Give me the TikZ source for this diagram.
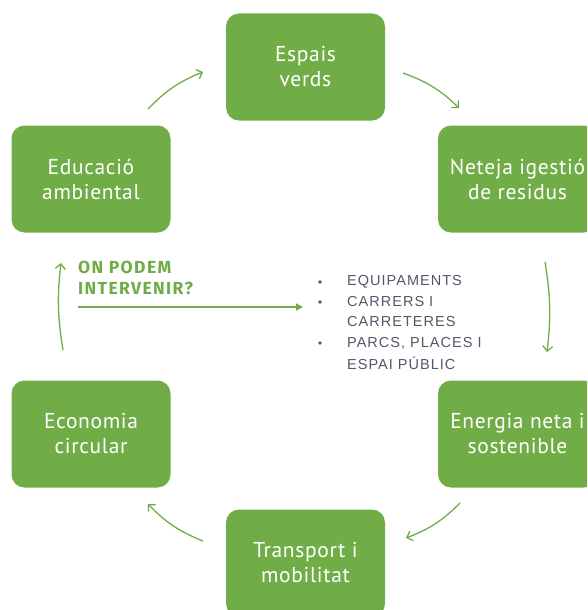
\documentclass[tikz,border=0pt]{standalone}
\usepackage{fontspec}
\setmainfont{PT Sans}
\newfontfamily\boxfont[LetterSpace=3]{PT Sans}
\newfontfamily\listfont[LetterSpace=7]{Liberation Sans}
\newfontfamily\titlefont[LetterSpace=8]{Fira Sans}
\usetikzlibrary{arrows.meta}
\definecolor{grn}{HTML}{70AD47}
\definecolor{listgray}{HTML}{505868}
\tikzset{
  greenbox/.style={fill=grn, draw=none, rounded corners=13pt, minimum width=159pt, minimum height=107pt,
    text=white, align=center, font=\boxfont\fontsize{21.5}{25}\selectfont, inner sep=0pt},
  cyc/.style={draw=grn, line width=1.3pt, -{Straight Barb[length=5pt,width=10pt,line width=1.3pt]}},
  listitem/.style={anchor=west, text=listgray, font=\listfont\fontsize{14.5}{20.4}\selectfont, inner sep=0pt},
  bul/.style={circle, fill=listgray, minimum size=3.8pt, inner sep=0pt}
}
\begin{document}
\begin{tikzpicture}[x=1pt,y=-1pt]
\useasboundingbox (0,0) rectangle (587,610);
\clip (0,0) rectangle (587,610);
\node[greenbox] (espais) at (305.5,67) {Espais\\verds};
\node[greenbox] (neteja) at (517.5,179) {Neteja igestió\\de residus};
\node[greenbox] (energia) at (517.5,434) {Energia neta i\\sostenible};
\node[greenbox] (transport) at (305.5,563) {Transport i\\mobilitat};
\node[greenbox] (economia) at (91,434) {Economia\\circular};
\node[greenbox] (educacio) at (91,179) {Educació\\ambiental};

\coordinate (a1s) at (148,109); \coordinate (a1e) at (203,72);
\coordinate (a2s) at (403,73);  \coordinate (a2e) at (459,108);
\coordinate (a3s) at (545,262); \coordinate (a3e) at (547,352);
\coordinate (a4s) at (460,503); \coordinate (a4e) at (406,538);
\coordinate (a5s) at (203,541); \coordinate (a5e) at (148,504);
\coordinate (a6s) at (63,350);  \coordinate (a6e) at (61,263);
\draw[cyc] (a1s) to[bend left=12] (a1e);
\draw[cyc] (a2s) to[bend left=12] (a2e);
\draw[cyc] (a3s) to[bend left=8] (a3e);
\draw[cyc] (a4s) to[bend left=12] (a4e);
\draw[cyc] (a5s) to[bend left=12] (a5e);
\draw[cyc] (a6s) to[bend left=8] (a6e);

\node[anchor=north west, inner sep=0pt, text=grn, align=left,
  font=\titlefont\bfseries\fontsize{17.5}{21}\selectfont] (title) at (78,261) {ON PODEM\\INTERVENIR?};
\coordinate (hs) at (78,307); \coordinate (he) at (303,307);
\draw[draw=grn, line width=1.4pt, -{Triangle[length=7pt,width=7pt]}] (hs) -- (he);

\node[listitem] (l1) at (347,282) {EQUIPAMENTS};
\node[listitem] (l2) at (347,302) {CARRERS I};
\node[listitem] (l3) at (347,322) {CARRETERES};
\node[listitem] (l4) at (347,343) {PARCS, PLACES I};
\node[listitem] (l5) at (347,363) {ESPAI PÚBLIC};
\node[bul] (b1) at (320,282) {};
\node[bul] (b2) at (320,302) {};
\node[bul] (b4) at (320,343) {};
\end{tikzpicture}
\end{document}
